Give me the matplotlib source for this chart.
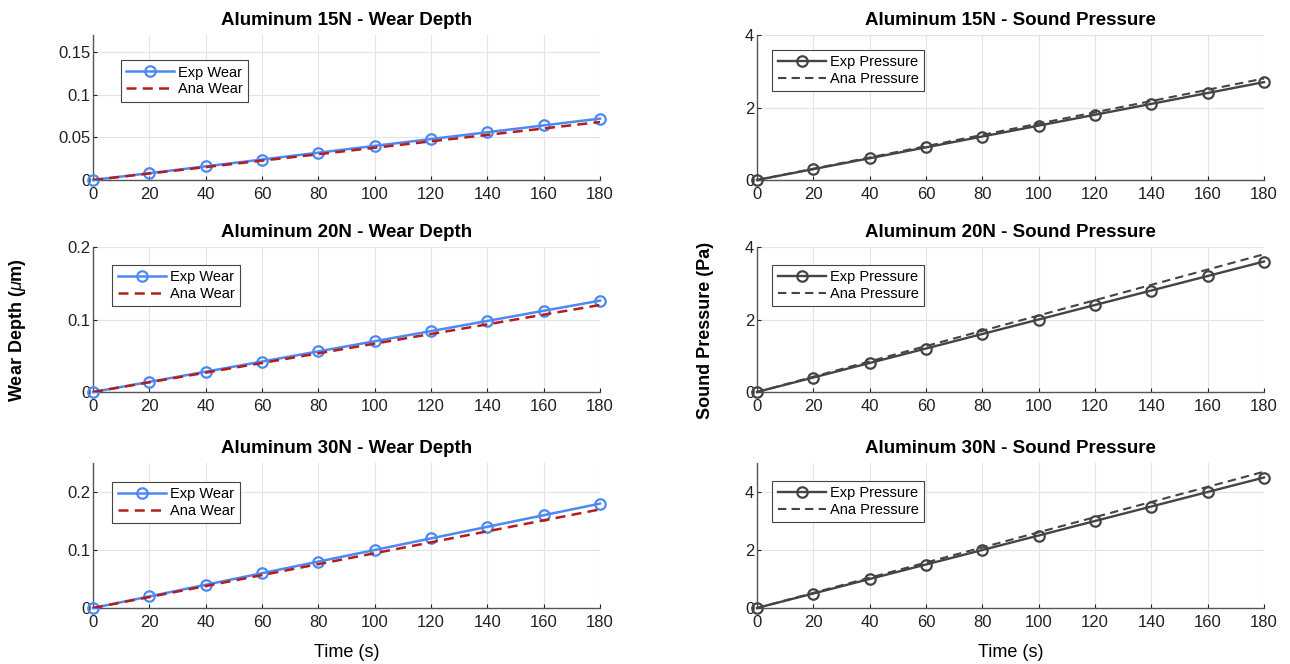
import numpy as np
import matplotlib.pyplot as plt

# time axis (s)
t = [0, 20, 40, 60, 80, 100, 120, 140, 160, 180]

# wear depth (um)
exp_wear_15 = [0, 0.008, 0.016, 0.024, 0.032, 0.040, 0.048, 0.056, 0.064, 0.072]
ana_wear_15 = [0, 0.0076, 0.0151, 0.0227, 0.0302, 0.0378, 0.0453, 0.0529, 0.0604, 0.068]
exp_wear_20 = [0, 0.014, 0.028, 0.042, 0.056, 0.070, 0.084, 0.098, 0.112, 0.126]
ana_wear_20 = [0, 0.0133, 0.0267, 0.040, 0.0533, 0.0667, 0.080, 0.0933, 0.1067, 0.120]
exp_wear_30 = [0, 0.020, 0.040, 0.060, 0.080, 0.100, 0.120, 0.140, 0.160, 0.180]
ana_wear_30 = [0, 0.0189, 0.0378, 0.0567, 0.0756, 0.0944, 0.1133, 0.1322, 0.1511, 0.170]

# sound pressure (Pa)
exp_p_15 = [0, 0.3, 0.6, 0.9, 1.2, 1.5, 1.8, 2.1, 2.4, 2.7]
ana_p_15 = [0, 0.311, 0.622, 0.933, 1.244, 1.556, 1.867, 2.178, 2.489, 2.8]
exp_p_20 = [0, 0.4, 0.8, 1.2, 1.6, 2.0, 2.4, 2.8, 3.2, 3.6]
ana_p_20 = [0, 0.422, 0.844, 1.267, 1.689, 2.111, 2.533, 2.956, 3.378, 3.8]
exp_p_30 = [0, 0.5, 1.0, 1.5, 2.0, 2.5, 3.0, 3.5, 4.0, 4.5]
ana_p_30 = [0, 0.522, 1.044, 1.567, 2.089, 2.611, 3.133, 3.656, 4.178, 4.7]

loads = ['15N', '20N', '30N']
wear_exp = [exp_wear_15, exp_wear_20, exp_wear_30]
wear_ana = [ana_wear_15, ana_wear_20, ana_wear_30]
p_exp = [exp_p_15, exp_p_20, exp_p_30]
p_ana = [ana_p_15, ana_p_20, ana_p_30]
wear_ylim = [0.17, 0.2, 0.25]
wear_ticks = [[0, 0.05, 0.1, 0.15], [0, 0.1, 0.2], [0, 0.1, 0.2]]
wear_ticklabels = [['0', '0.05', '0.1', '0.15'], ['0', '0.1', '0.2'], ['0', '0.1', '0.2']]
p_ylim = [4, 4, 5]
p_ticks = [[0, 2, 4], [0, 2, 4], [0, 2, 4]]

plt.rcParams['font.family'] = ['Liberation Sans', 'DejaVu Sans']
plt.rcParams['mathtext.fontset'] = 'custom'
plt.rcParams['mathtext.it'] = 'Liberation Sans:italic'

W, H = 1290, 664
fig = plt.figure(figsize=(W/100, H/100), dpi=100)

blue = '#4d88f5'
red = '#b21e1e'
gray = '#444444'

lx0, rx0 = 93, 757
aw = 507
tops = [35, 247, 463]
ah = 145
leg_anchor_l = [(0.04, 0.875), (0.024, 0.925), (0.024, 0.92)]
leg_anchor_r = [(0.016, 0.945), (0.016, 0.925), (0.016, 0.925)]


def style(ax, ylim, ticks, labels=None):
    ax.set_xlim(0, 180)
    ax.set_ylim(0, ylim)
    ax.set_xticks(t)
    ax.set_yticks(ticks)
    if labels is not None:
        ax.set_yticklabels(labels)
    ax.grid(True, color='#e3e3e3', linewidth=0.8)
    ax.set_axisbelow(True)
    for s in ['top', 'right']:
        ax.spines[s].set_visible(False)
    for s in ['left', 'bottom']:
        ax.spines[s].set_color('#555555')
        ax.spines[s].set_linewidth(1.0)
    ax.tick_params(direction='in', length=3, labelsize=12, colors='#222222')
    ax.tick_params(axis='x', pad=5)
    ax.tick_params(axis='y', pad=2)


def legend(ax, anchor):
    leg = ax.legend(loc='upper left', bbox_to_anchor=anchor, fontsize=10.5, handlelength=3.3,
                    handletextpad=0.3, borderpad=0.35, labelspacing=0.2, fancybox=False, framealpha=1,
                    edgecolor='#444444', markerscale=1.0)
    leg.get_frame().set_linewidth(0.8)


for i in range(3):
    bot = 1 - (tops[i] + ah) / H
    axl = fig.add_axes([lx0 / W, bot, aw / W, ah / H])
    axl.plot(t, wear_exp[i], '-o', color=blue, lw=1.8, ms=7.5, mfc='none', mew=1.6, label='Exp Wear', clip_on=False, zorder=3)
    axl.plot(t, wear_ana[i], '--', color=red, lw=1.8, dashes=(4, 2.5), label='Ana Wear', zorder=4)
    style(axl, wear_ylim[i], wear_ticks[i], wear_ticklabels[i])
    axl.set_title(f'Aluminum {loads[i]} - Wear Depth', fontsize=13.5, fontweight='bold', pad=7)
    legend(axl, leg_anchor_l[i])

    axr = fig.add_axes([rx0 / W, bot, aw / W, ah / H])
    axr.plot(t, p_exp[i], '-o', color=gray, lw=1.7, ms=7.5, mfc='none', mew=1.6, label='Exp Pressure', clip_on=False, zorder=3)
    axr.plot(t, p_ana[i], '--', color=gray, lw=1.5, dashes=(4, 2.5), label='Ana Pressure', zorder=4)
    style(axr, p_ylim[i], p_ticks[i])
    axr.set_title(f'Aluminum {loads[i]} - Sound Pressure', fontsize=13.5, fontweight='bold', pad=7)
    legend(axr, leg_anchor_r[i])

    if i == 2:
        axl.set_xlabel('Time (s)', fontsize=13, labelpad=10)
        axr.set_xlabel('Time (s)', fontsize=13, labelpad=10)

fig.text(18 / W, 1 - 330 / H, r'Wear Depth ($\mu$m)', rotation=90, va='center', ha='center',
         fontsize=13, fontweight='bold')
fig.text(705 / W, 1 - 330 / H, 'Sound Pressure (Pa)', rotation=90, va='center', ha='center',
         fontsize=13, fontweight='bold')

fig.savefig('out.png', dpi=100)
